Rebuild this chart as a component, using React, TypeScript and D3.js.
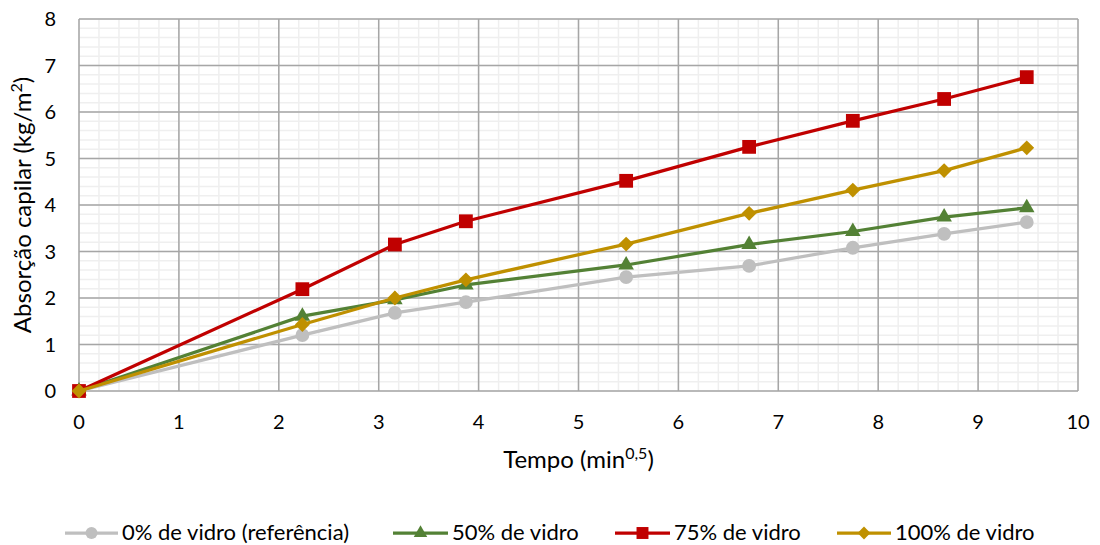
import React from "react";
import { scaleLinear, line, range, symbol, symbolCircle, symbolTriangle, symbolSquare, symbolDiamond2 } from "d3";

const tempo = [0, 2.236, 3.162, 3.873, 5.477, 6.708, 7.746, 8.66, 9.487];
const ref0 = [0, 1.2, 1.68, 1.91, 2.45, 2.69, 3.08, 3.38, 3.63];
const vidro50 = [0, 1.61, 1.96, 2.28, 2.71, 3.15, 3.43, 3.74, 3.94];
const vidro75 = [0, 2.19, 3.15, 3.65, 4.52, 5.25, 5.81, 6.28, 6.75];
const vidro100 = [0, 1.43, 2.0, 2.39, 3.16, 3.82, 4.32, 4.74, 5.23];
const seriesNames = ["0% de vidro (referência)", "50% de vidro", "75% de vidro", "100% de vidro"];
const xTicks = [0, 1, 2, 3, 4, 5, 6, 7, 8, 9, 10];
const yTicks = [0, 1, 2, 3, 4, 5, 6, 7, 8];

const series = [
  { name: seriesNames[0], values: ref0, color: "#bfbfbf", shape: symbolCircle, size: 150 },
  { name: seriesNames[1], values: vidro50, color: "#538135", shape: symbolTriangle, size: 105 },
  { name: seriesNames[2], values: vidro75, color: "#c00000", shape: symbolSquare, size: 190 },
  { name: seriesNames[3], values: vidro100, color: "#bf9000", shape: symbolDiamond2, size: 140 },
];

export default function App() {
  const width = 1100;
  const height = 545;
  const plot = { left: 79, top: 19, right: 1078, bottom: 391 };
  const font = "Lato, 'Open Sans', sans-serif";

  const x = scaleLinear().domain([0, 10]).range([plot.left, plot.right]);
  const y = scaleLinear().domain([0, 8]).range([plot.bottom, plot.top]);

  const minorX = range(0, 10.001, 0.2);
  const minorY = range(0, 8.001, 0.2);

  // legend line start / text start
  const legendItems = [
    { lx: 65, tx: 122 },
    { lx: 393, tx: 452 },
    { lx: 615, tx: 674 },
    { lx: 837, tx: 895 },
  ];
  const legendY = 533;

  return (
    <svg width={width} height={height} style={{ position: "absolute", left: 0, top: 0 }}>
      <rect width={width} height={height} fill="#ffffff" />
      {minorX.map((v, i) => (
        <line key={`mx${i}`} x1={x(v)} x2={x(v)} y1={plot.top} y2={plot.bottom} stroke="#efefef" strokeWidth={1.5} />
      ))}
      {minorY.map((v, i) => (
        <line key={`my${i}`} x1={plot.left} x2={plot.right} y1={y(v)} y2={y(v)} stroke="#efefef" strokeWidth={1.5} />
      ))}
      {xTicks.map((t) => (
        <line key={`gx${t}`} x1={x(t)} x2={x(t)} y1={plot.top} y2={plot.bottom} stroke="#a6a6a6" strokeWidth={1.5} />
      ))}
      {yTicks.map((t) => (
        <line key={`gy${t}`} x1={plot.left} x2={plot.right} y1={y(t)} y2={y(t)} stroke="#a6a6a6" strokeWidth={1.5} />
      ))}
      {xTicks.map((t) => (
        <text key={`tx${t}`} x={x(t)} y={plot.bottom + 38} textAnchor="middle" fontFamily={font} fontSize={20} fill="#000">
          {t}
        </text>
      ))}
      {yTicks.map((t) => (
        <text key={`ty${t}`} x={plot.left - 23} y={y(t) + 7} textAnchor="end" fontFamily={font} fontSize={20} fill="#000">
          {t}
        </text>
      ))}
      {series.map((s) => {
        const pts = s.values.map((v, i) => [x(tempo[i]), y(v)] as [number, number]);
        return (
          <g key={s.name}>
            <path d={line()(pts) || ""} fill="none" stroke={s.color} strokeWidth={3.25} strokeLinejoin="round" />
            {pts.map((p, i) => (
              <path key={i} d={symbol(s.shape, s.size)() || ""} transform={`translate(${p[0]},${p[1]})`} fill={s.color} />
            ))}
          </g>
        );
      })}
      <text x={x(5)} y={468} textAnchor="middle" fontFamily={font} fontSize={24} fill="#000">
        Tempo (min<tspan dy={-9} fontSize={16}>0,5</tspan><tspan dy={9}>)</tspan>
      </text>
      <text transform={`translate(31,${(plot.top + plot.bottom) / 2}) rotate(-90)`} textAnchor="middle" fontFamily={font} fontSize={24} fill="#000">
        Absorção capilar (kg/m<tspan dy={-9} fontSize={16}>2</tspan><tspan dy={9}>)</tspan>
      </text>
      {series.map((s, i) => {
        const it = legendItems[i];
        const x2 = it.tx - 4;
        const cx = (it.lx + x2) / 2;
        return (
          <g key={`lg${i}`}>
            <line x1={it.lx} x2={x2} y1={legendY} y2={legendY} stroke={s.color} strokeWidth={3.25} />
            <path d={symbol(s.shape, s.size * 0.75)() || ""} transform={`translate(${cx},${legendY})`} fill={s.color} />
            <text x={it.tx} y={540} fontFamily={font} fontSize={22} fill="#000">
              {s.name}
            </text>
          </g>
        );
      })}
    </svg>
  );
}
